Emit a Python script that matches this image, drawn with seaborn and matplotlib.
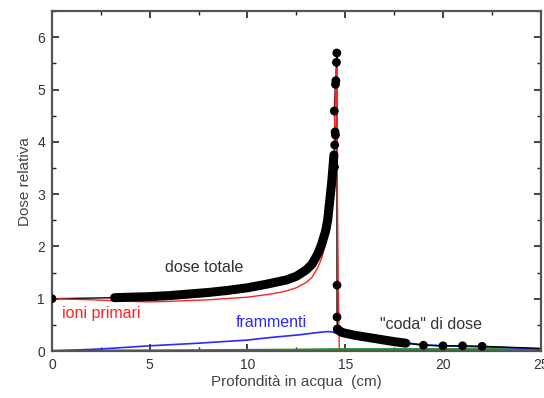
import matplotlib
matplotlib.use("Agg")
import matplotlib.pyplot as plt
import seaborn as sns
import pandas as pd
from matplotlib.ticker import MultipleLocator

sns.set_theme(style="ticks")
plt.rcParams['font.family'] = ['Liberation Sans', 'DejaVu Sans']

# ---- data ----
# total dose, dense part before the peak
dose_rise_x = [3.2, 4, 5, 6, 7, 8, 9, 10, 11, 12, 12.5, 13, 13.3, 13.6, 13.8, 14.0, 14.1, 14.2, 14.3, 14.38, 14.42]
dose_rise_y = [1.02, 1.03, 1.04, 1.06, 1.09, 1.12, 1.16, 1.21, 1.28, 1.36, 1.43, 1.55, 1.66, 1.86, 2.05, 2.3, 2.5, 2.85, 3.2, 3.55, 3.75]
# total dose, points at the peak and on the fall-off
dose_peak_x = [14.45, 14.46, 14.5, 14.48, 14.44, 14.5, 14.52, 14.55, 14.57, 14.58, 14.58, 14.6]
dose_peak_y = [3.52, 3.94, 4.13, 4.19, 4.59, 5.10, 5.17, 5.52, 5.70, 1.26, 0.65, 0.42]
# total dose, dense tail after the peak
dose_tail_x = [14.6, 14.8, 15.0, 15.5, 16.0, 16.5, 17.0, 17.5, 18.1]
dose_tail_y = [0.42, 0.36, 0.34, 0.30, 0.27, 0.24, 0.21, 0.18, 0.15]
# total dose, sparse points in the tail
dose_sparse_x = [19.0, 20.0, 21.0, 22.0]
dose_sparse_y = [0.11, 0.10, 0.10, 0.09]
# total dose at the entrance and at the far end
dose_start_x, dose_start_y = [0.0], [1.0]
dose_end_x, dose_end_y = [25.0], [0.05]

# primary ions
ions_x = [0, 2, 4, 5, 6, 8, 10, 11, 11.5, 12, 12.5, 13, 13.3, 13.6, 13.8, 14.0, 14.1, 14.2, 14.3, 14.4, 14.45, 14.5, 14.55, 14.6, 14.65, 14.7]
ions_y = [1.0, 0.98, 0.95, 0.94, 0.95, 0.98, 1.03, 1.08, 1.11, 1.15, 1.21, 1.31, 1.41, 1.6, 1.78, 2.06, 2.26, 2.55, 2.95, 3.6, 4.2, 5.0, 5.4, 3.0, 1.0, 0.0]

# fragments
frag_x = [0, 2.5, 5, 7.5, 10, 11.2, 12.65, 13.5, 14.0, 14.3, 14.6, 15, 16, 17, 18, 19, 20, 21, 22, 23, 25]
frag_y = [0.0, 0.04, 0.10, 0.15, 0.21, 0.26, 0.31, 0.35, 0.37, 0.37, 0.33, 0.31, 0.26, 0.21, 0.16, 0.12, 0.10, 0.09, 0.08, 0.07, 0.04]

# light component (green)
light_x = [0, 5, 7.5, 10, 12.5, 14.5, 15, 20, 25]
light_y = [0.0, 0.005, 0.01, 0.015, 0.02, 0.03, 0.03, 0.03, 0.03]

x_ticks = [0, 5, 10, 15, 20, 25]
y_ticks = [0, 1, 2, 3, 4, 5, 6]

# ---- figure ----
fig = plt.figure(figsize=(5.44, 3.98), dpi=100)
ax = fig.add_axes([0.0956, 0.118, 0.8984, 0.854])

def line(x, y, **kw):
    df = pd.DataFrame({"x": x, "y": y})
    sns.lineplot(data=df, x="x", y="y", sort=False, estimator=None, ax=ax, **kw)

dose_all_x = dose_start_x + dose_rise_x + dose_peak_x + dose_tail_x + dose_sparse_x + dose_end_x
dose_all_y = dose_start_y + dose_rise_y + dose_peak_y + dose_tail_y + dose_sparse_y + dose_end_y

line(light_x, light_y, color="#1a9a1a", linewidth=2.0)
line(frag_x, frag_y, color="#2a2aff", linewidth=1.2)
line(dose_all_x, dose_all_y, color="black", linewidth=1.0)
line(ions_x, ions_y, color="#ff2222", linewidth=1.0)
line(dose_rise_x, dose_rise_y, color="black", linewidth=6.5, solid_capstyle="round")
line(dose_tail_x, dose_tail_y, color="black", linewidth=6.5, solid_capstyle="round")
sns.scatterplot(x=dose_peak_x, y=dose_peak_y, color="black", s=40, edgecolor="none", ax=ax, zorder=5)
sns.scatterplot(x=dose_start_x + dose_sparse_x, y=dose_start_y + dose_sparse_y,
                color="black", s=40, edgecolor="none", ax=ax, zorder=5)

ax.set_xlim(0, 25)
ax.set_ylim(0, 6.5)
ax.set_xticks(x_ticks)
ax.set_yticks(y_ticks)
ax.set_xticklabels([str(t) for t in x_ticks])
ax.set_yticklabels([str(t) for t in y_ticks])
ax.xaxis.set_minor_locator(MultipleLocator(2.5))
ax.yaxis.set_minor_locator(MultipleLocator(0.5))
ax.tick_params(which="both", direction="in", top=True, right=True, color="#222222",
               labelsize=10, labelcolor="#333333", pad=5)
ax.tick_params(which="major", length=5, width=1.2)
ax.tick_params(which="minor", length=3, width=1.0)
for s in ax.spines.values():
    s.set_color("#555555")
    s.set_linewidth(1.6)

ax.set_xlabel("Profondità in acqua  (cm)", fontsize=11, color="#444444", labelpad=2)
ax.set_ylabel("Dose relativa", fontsize=11, color="#444444", labelpad=4)

ax.text(5.8, 1.6, "dose totale", fontsize=11.5, color="#333333", va="center")
ax.text(0.5, 0.72, "ioni primari", fontsize=11.5, color="#ff2222", va="center")
ax.text(9.4, 0.54, "frammenti", fontsize=11.5, color="#2a2aff", va="center")
ax.text(16.8, 0.5, "\"coda\" di dose", fontsize=11.5, color="#333333", va="center")

fig.savefig("out.png", dpi=100)
